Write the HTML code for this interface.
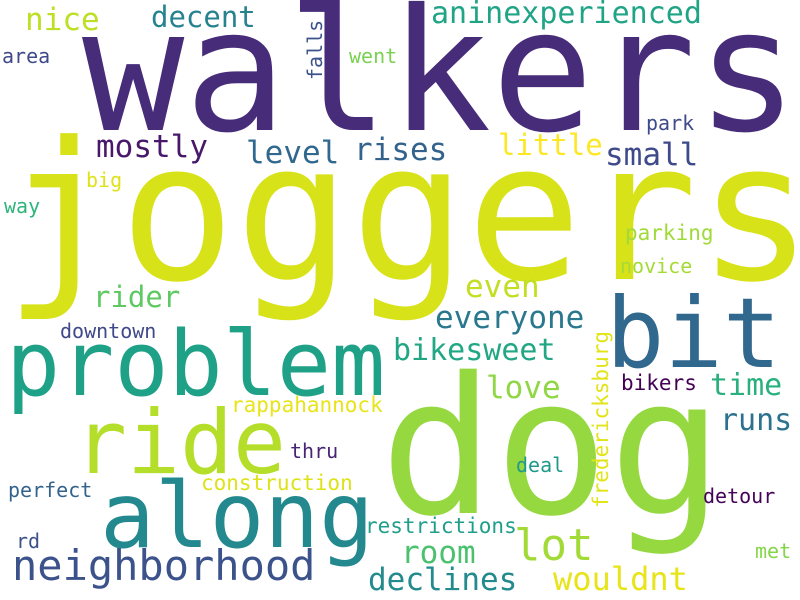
<!DOCTYPE html>
<html><head><meta charset="utf-8">
<style>
html,body{margin:0;padding:0;background:#fff;}
svg{display:block;}
text{font-family:"DejaVu Sans Mono","Liberation Mono",monospace;}
</style></head>
<body>
<svg id="cloud" width="800" height="600" viewBox="0 0 800 600" xmlns="http://www.w3.org/2000/svg">
<rect width="800" height="600" fill="#ffffff"/>
</svg>
<script>
const words = ["walkers","joggers","dog","problem","bit","ride","along","neighborhood","nice","decent","area","falls","went","mostly","level","rises","big","way","rider","aninexperienced","park","little","small","parking","novice","even","everyone","bikesweet","love","fredericksburg","bikers","time","runs","deal","detour","restrictions","lot","met","room","declines","wouldnt","downtown","rappahannock","thru","construction","perfect","rd"];
const xs = [82,4,380,6,606,74,100,12,25,151,2,322,349,96,246,354,86,4,93,431,646,498,605,625,620,465,435,393,486,608,621,710,720,516,703,365,514,755,401,368,553,60,231,290,201,8,16];
const ys = [130,279,513,395,367,473,547,580,30,27,63,80,63,157,163,160,187,213,307,23,130,155,165,240,273,297,328,360,398,508,390,395,430,472,503,533,560,558,563,590,590,338,412,458,490,497,548];
const sizes = [170,192,190,90,97,88,91,42,31,29,20,20,20,31,31,31,20,20,29,30,20,29,31,21,20,31,31,30,31,21,21,30,30,20,20,21,44,20,31,31,32,20,21,20,21,20,20];
const colors = ["#472c7a","#d8e219","#95d840","#1fa187","#31688e","#b5de2b","#23898e","#3b528b","#bddf26","#26828e","#3e4a89","#3b528b","#7ad151","#48186a","#31688e","#33638d","#dde318","#2fb47c","#5ec962","#20a486","#3e4a89","#fde725","#3e4a89","#a0da39","#a5db36","#c2df23","#2a788e","#22a785","#8fd744","#e2e418","#440154","#2ab07f","#2c728e","#1f9a8a","#450457","#1f9e89","#a2da37","#86d549","#4ac16d","#238a8d","#e7e419","#3f4889","#e8e419","#482475","#dde318","#33638d","#3b528b"];
const rotations = [0,0,0,0,0,0,0,0,0,0,0,-90,0,0,0,0,0,0,0,0,0,0,0,0,0,0,0,0,0,-90,0,0,0,0,0,0,0,0,0,0,0,0,0,0,0,0,0];

const svg = document.getElementById('cloud');
const NS = 'http://www.w3.org/2000/svg';
for (let i = 0; i < words.length; i++) {
  const t = document.createElementNS(NS, 'text');
  t.setAttribute('x', xs[i]);
  t.setAttribute('y', ys[i]);
  t.setAttribute('font-size', sizes[i]);
  t.setAttribute('fill', colors[i]);
  if (rotations[i] !== 0) {
    t.setAttribute('transform', 'rotate(' + rotations[i] + ' ' + xs[i] + ' ' + ys[i] + ')');
  }
  t.textContent = words[i];
  
  
  svg.appendChild(t);
}
</script>
</body></html>
